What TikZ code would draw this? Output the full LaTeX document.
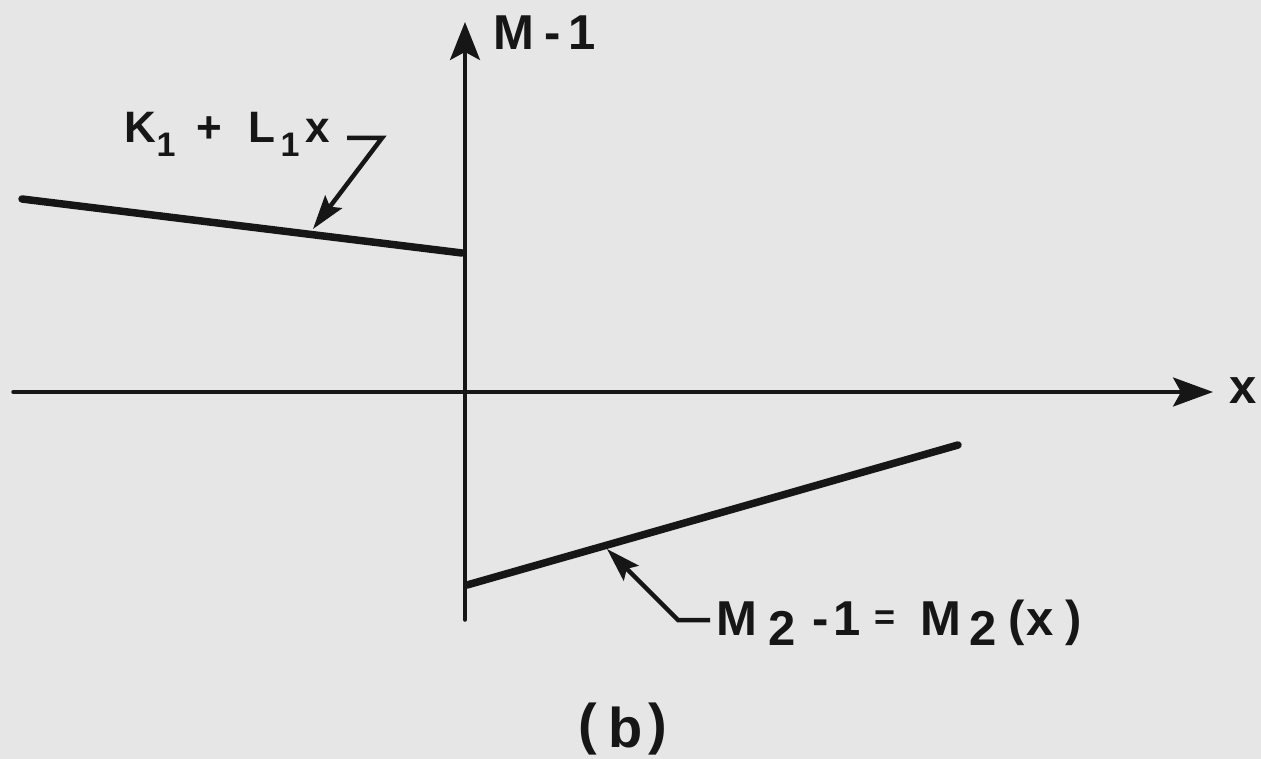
\documentclass[tikz,border=0pt]{standalone}
\usepackage{fontspec}
\setmainfont{Liberation Sans}
\usetikzlibrary{arrows.meta,calc}
\definecolor{paper}{RGB}{230,230,230}
\definecolor{ink}{RGB}{22,22,22}
\newcommand\gl[1]{\makebox[0pt][c]{#1}}
\begin{document}
\begin{tikzpicture}[x=1pt,y=-1pt,
  axis/.style={draw=ink,line width=3.5pt,line cap=round},
  curve/.style={draw=ink,line width=7.5pt,line cap=round},
  leader/.style={draw=ink,line width=4.5pt,line join=miter,-{Stealth[length=34pt,width=21pt,inset=6pt]}},
  lbl/.style={text=ink,inner sep=0pt,anchor=base west,font=\fontsize{49}{51}\selectfont\bfseries}]
\fill[paper] (0,0) rectangle (1261,759);
\useasboundingbox (0,0) rectangle (1261,759);
% axes
\coordinate (yb) at (465,620);
\coordinate (yt) at (465,22);
\coordinate (xl) at (13,392);
\coordinate (xr) at (1213,392);
\draw[axis,-{Stealth[length=38pt,width=30pt,inset=8pt]}] (yb) -- (yt);
\draw[axis,-{Stealth[length=40pt,width=29pt,inset=8pt]}] (xl) -- (xr);
% lines
\coordinate (l1a) at (22,199);
\coordinate (l1b) at (462,253);
\coordinate (l2a) at (467,585);
\coordinate (l2b) at (958,445);
\draw[curve] (l1a) -- (l1b);
\draw[curve] (l2a) -- (l2b);
% labels
\node[lbl] (mlab) at (514,50) {\gl{M}\kern38pt\gl{-}\kern30pt\gl{1}};
\node[lbl] (xlab) at (1242,403) {\gl{x}};
\node[lbl,font=\fontsize{44}{46}\selectfont\bfseries] (klab) at (140,143)
  {\gl{K}\kern26pt\gl{\raisebox{-14pt}{\fontsize{34}{34}\selectfont 1}}\kern43pt\gl{+}\kern53pt\gl{L}\kern28pt\gl{\raisebox{-14pt}{\fontsize{34}{34}\selectfont 1}}\kern28pt\gl{x}};
\node[lbl] (m2lab) at (737,635)
  {\gl{M}\kern45pt\gl{\raisebox{-10pt}{2}}\kern38pt\gl{-}\kern27pt\gl{1}\kern38pt\gl{\raisebox{6pt}{\fontsize{36}{36}\selectfont =}}\kern56pt\gl{M}\kern42pt\gl{\raisebox{-10pt}{2}}\kern33pt\gl{(}\kern24pt\gl{x}\kern33pt\gl{)}};
\node[lbl,font=\fontsize{56}{58}\selectfont\bfseries] (blab) at (588,747) {\gl{\raisebox{4pt}{(}}\kern37pt\gl{b}\kern33pt\gl{\raisebox{4pt}{)}}};
% leaders
\coordinate (k7a) at (347,138);
\coordinate (k7b) at (382,138);
\coordinate (k1tip) at (313,229);
\draw[leader] (k7a) -- (k7b) -- (k1tip);
\coordinate (m2a) at (710,620);
\coordinate (m2b) at (678,620);
\coordinate (m2tip) at (607,549);
\draw[leader] (m2a) -- (m2b) -- (m2tip);
\end{tikzpicture}
\end{document}
